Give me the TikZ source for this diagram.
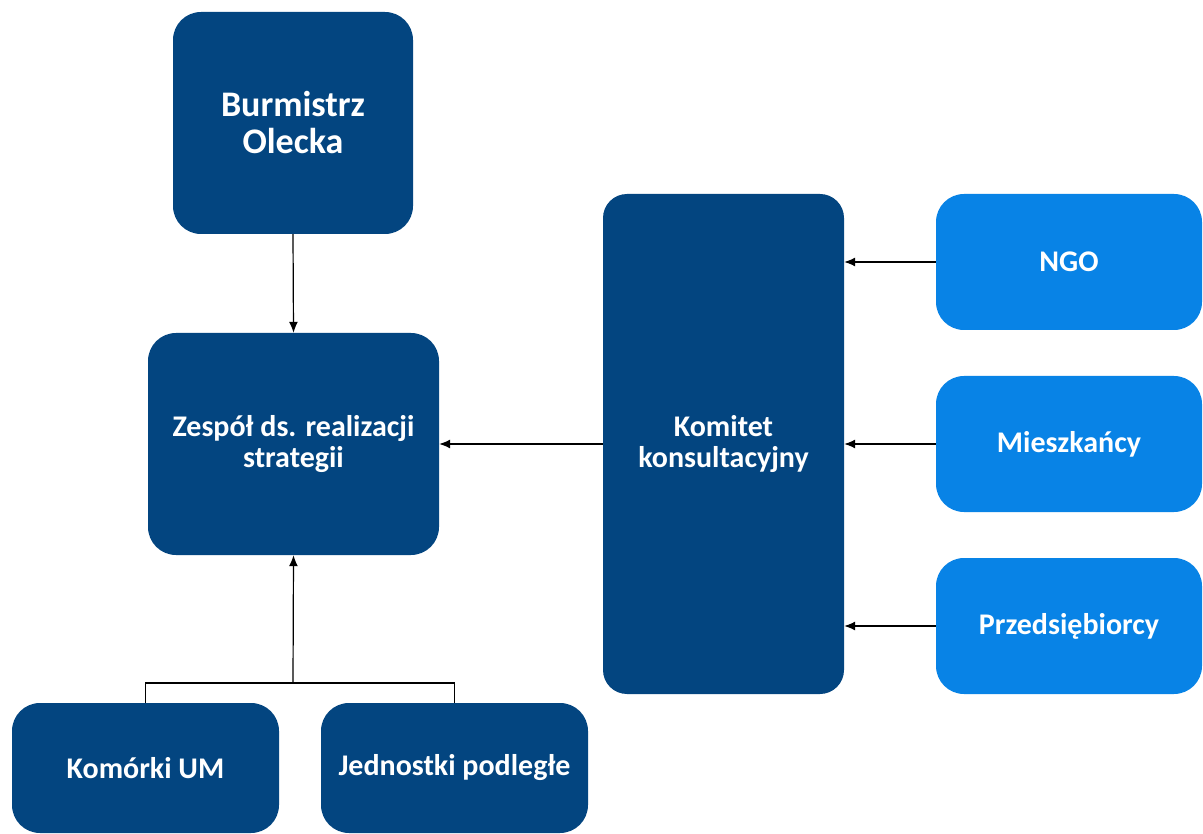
\documentclass[tikz,border=0pt]{standalone}
\usepackage{fontspec}
\setmainfont{Carlito}
\usetikzlibrary{arrows.meta}
\definecolor{navy}{RGB}{3,69,128}
\definecolor{lblue}{RGB}{8,131,230}
\begin{document}
\begin{tikzpicture}[x=1pt,y=-1pt,
  box/.style={fill=navy,rounded corners=28pt,inner sep=0pt,align=center,text=white,font=\bfseries\fontsize{30}{31}\selectfont},
  lbox/.style={box,fill=lblue},
  conn/.style={line width=1.2pt,-{Latex[length=11pt,width=9pt]}},
  plain/.style={line width=1.2pt}]
\useasboundingbox (0,0) rectangle (1203,834);
\fill[white] (0,0) rectangle (1203,834);
\node[box,minimum width=240pt,minimum height=222pt,font=\bfseries\fontsize{36}{37}\selectfont] (bur) at (293,123) {Burmistrz\\Olecka};
\node[box,minimum width=291pt,minimum height=222pt] (zes) at (293.5,444) {Zespół ds. realizacji\\strategii};
\node[box,minimum width=267pt,minimum height=130pt] (kom) at (145.5,768) {Komórki UM};
\node[box,minimum width=267pt,minimum height=130pt] (jed) at (454.5,768) {Jednostki podległe};
\node[box,minimum width=241pt,minimum height=500pt,rounded corners=24pt] (kk) at (723.5,444) {Komitet\\konsultacyjny};
\node[lbox,minimum width=266pt,minimum height=136pt] (ngo) at (1069,262) {NGO};
\node[lbox,minimum width=266pt,minimum height=136pt] (mie) at (1069,444) {Mieszkańcy};
\node[lbox,minimum width=266pt,minimum height=136pt] (prz) at (1069,626) {Przedsiębiorcy};
\coordinate (jn) at (293,683);
\draw[conn] (bur.south) -- (zes.north);
\draw[conn] (kk.west) -- (zes.east);
\draw[conn] (ngo.west) -- (kk.east |- ngo.west);
\draw[conn] (mie.west) -- (kk.east |- mie.west);
\draw[conn] (prz.west) -- (kk.east |- prz.west);
\draw[plain] (kom.north) |- (jn) -| (jed.north);
\draw[conn] (jn) -- (zes.south);
\end{tikzpicture}
\end{document}
